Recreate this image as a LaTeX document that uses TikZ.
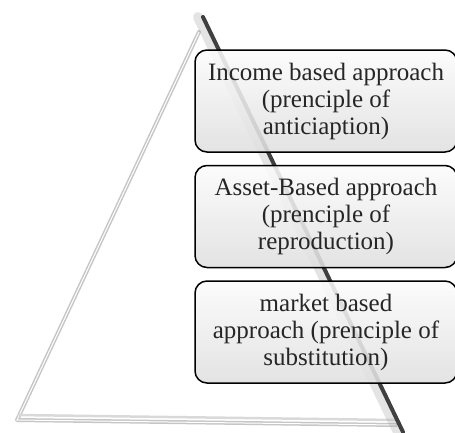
\documentclass[tikz,border=0pt]{standalone}
\usepackage{fontspec}
\setmainfont{Liberation Serif}
\usetikzlibrary{positioning}
\tikzset{edgelight/.style={draw=gray!45,line width=4pt,line cap=round,line join=round}}
\tikzset{edgeshine/.style={draw=white,line width=1pt}}
\tikzset{edgeshade/.style={draw=gray!70,line width=10pt,opacity=0.3,line cap=round}}
\tikzset{edgedark/.style={draw=black!75,line width=4pt,line cap=round}}
\tikzset{approach/.style={rectangle,rounded corners=12pt,draw=black,line width=1.5pt,top color=gray!3,bottom color=gray!25,fill opacity=0.88,text opacity=1,text=black!85,minimum width=262pt,minimum height=102pt,align=center,font=\fontsize{25}{27}\selectfont}}

\begin{document}
\begin{tikzpicture}[x=1pt,y=-1pt]
  \useasboundingbox (0,0) rectangle (455,432);
  \coordinate (apex) at (203,17);
  \coordinate (peak) at (199,32);
  \coordinate (corner) at (17,420);
  \coordinate (baseend) at (396,425);
  \coordinate (foot) at (403,432);
  % pyramid
  \path [edgelight] (peak) -- (corner) -- (baseend);
  \path [edgeshine] (peak) -- (corner) -- (baseend);
  \path [draw=gray!30,line width=2.5pt] ([yshift=5pt]corner) -- ([yshift=5pt]baseend);
  \path [edgeshade] ([xshift=-5pt]apex) -- ([xshift=-5pt]foot);
  \path [edgedark] (apex) -- (foot);
  % approaches
  \node [approach] (income) at (326,101) {Income based approach\\(prenciple of\\anticiaption)};
  \node [approach,below=12pt of income] (asset) {Asset-Based approach\\(prenciple of\\reproduction)};
  \node [approach,below=12pt of asset] (market) {market based\\approach (prenciple of\\substitution)};
\end{tikzpicture}
\end{document}
